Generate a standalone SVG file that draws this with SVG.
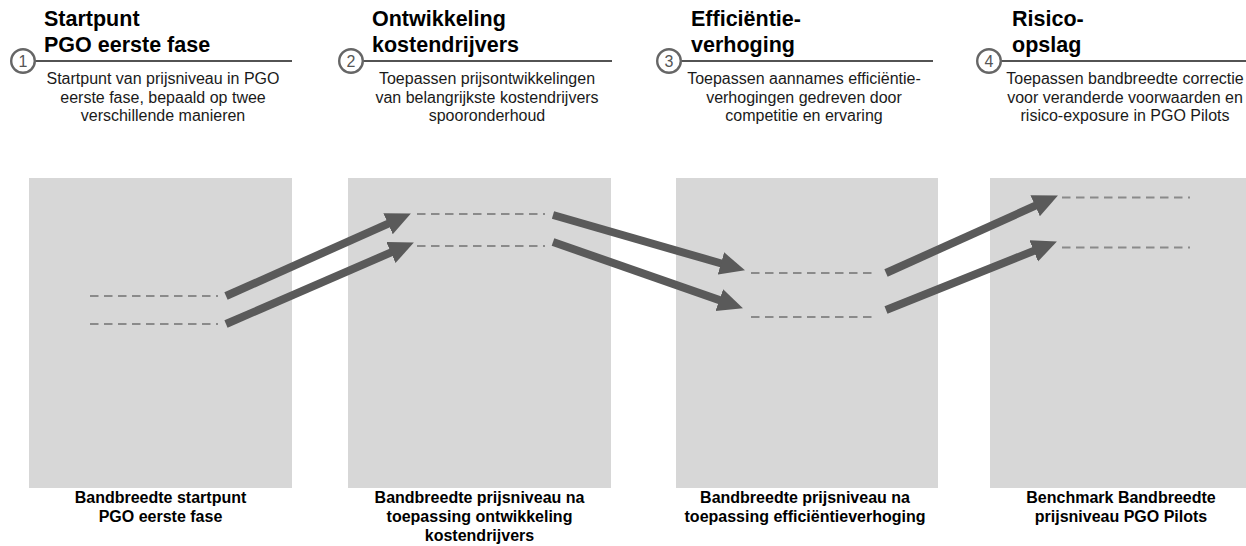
<svg xmlns="http://www.w3.org/2000/svg" width="1246" height="546" viewBox="0 0 1246 546">
  <style>
    text { font-family: "Liberation Sans", Arial, sans-serif; }
    .title { font-size: 21.5px; font-weight: bold; fill: #000; }
    .desc { font-size: 16px; fill: #1a1a1a; text-anchor: middle; }
    .label { font-size: 16px; font-weight: bold; fill: #000; text-anchor: middle; }
    .num { font-size: 16px; fill: #555; text-anchor: middle; }
    .ring { fill: #fff; stroke: #666; stroke-width: 2.4; }
    .rule { stroke: #1a1a1a; stroke-width: 1.3; }
    .box { fill: #d7d7d7; }
    .band { stroke: #8a8a8a; stroke-width: 2; stroke-dasharray: 8.5 5.5; fill: none; }
    .arrow { stroke: #5a5a5a; stroke-width: 8; fill: none; marker-end: url(#head); }
  </style>
  <defs>
    <marker id="head" markerUnits="userSpaceOnUse" markerWidth="26" markerHeight="24" refX="4" refY="11.5" orient="auto">
      <path d="M0,0 L25,11.5 L0,23 z" fill="#5a5a5a"/>
    </marker>
  </defs>
  <rect width="1246" height="546" fill="#fff"/>

  <g id="header-1">
    <text class="title" x="44" y="26">Startpunt</text>
    <text class="title" x="44" y="52">PGO eerste fase</text>
    <line class="rule" x1="35" y1="61" x2="292" y2="61"/>
    <circle class="ring" cx="23" cy="61" r="11.8"/>
    <text class="num" x="23" y="66.8">1</text>
    <text class="desc" x="163" y="84">Startpunt van prijsniveau in PGO</text>
    <text class="desc" x="163" y="102.5">eerste fase, bepaald op twee</text>
    <text class="desc" x="163" y="121">verschillende manieren</text>
  </g>

  <g id="header-2">
    <text class="title" x="372" y="26">Ontwikkeling</text>
    <text class="title" x="372" y="52">kostendrijvers</text>
    <line class="rule" x1="363" y1="61" x2="612" y2="61"/>
    <circle class="ring" cx="351" cy="61" r="11.8"/>
    <text class="num" x="351" y="66.8">2</text>
    <text class="desc" x="487" y="84">Toepassen prijsontwikkelingen</text>
    <text class="desc" x="487" y="102.5">van belangrijkste kostendrijvers</text>
    <text class="desc" x="487" y="121">spooronderhoud</text>
  </g>

  <g id="header-3">
    <text class="title" x="691" y="26">Efficiëntie-</text>
    <text class="title" x="691" y="52">verhoging</text>
    <line class="rule" x1="681" y1="61" x2="933" y2="61"/>
    <circle class="ring" cx="669" cy="61" r="11.8"/>
    <text class="num" x="669" y="66.8">3</text>
    <text class="desc" x="804" y="84">Toepassen aannames efficiëntie-</text>
    <text class="desc" x="804" y="102.5">verhogingen gedreven door</text>
    <text class="desc" x="804" y="121">competitie en ervaring</text>
  </g>

  <g id="header-4">
    <text class="title" x="1012" y="26">Risico-</text>
    <text class="title" x="1012" y="52">opslag</text>
    <line class="rule" x1="1001" y1="61" x2="1246" y2="61"/>
    <circle class="ring" cx="989" cy="61" r="11.8"/>
    <text class="num" x="989" y="66.8">4</text>
    <text class="desc" x="1125" y="84">Toepassen bandbreedte correctie</text>
    <text class="desc" x="1125" y="102.5">voor veranderde voorwaarden en</text>
    <text class="desc" x="1125" y="121">risico-exposure in PGO Pilots</text>
  </g>

  <g id="box-1">
    <rect class="box" x="29" y="178" width="263" height="310"/>
    <line class="band" x1="90" y1="296" x2="218" y2="296"/>
    <line class="band" x1="90" y1="324" x2="218" y2="324"/>
    <text class="label" x="160.5" y="503">Bandbreedte startpunt</text>
    <text class="label" x="160.5" y="522">PGO eerste fase</text>
  </g>

  <g id="box-2">
    <rect class="box" x="348" y="178" width="263" height="310"/>
    <line class="band" x1="417" y1="214" x2="545" y2="214"/>
    <line class="band" x1="417" y1="246" x2="545" y2="246"/>
    <text class="label" x="479.5" y="503">Bandbreedte prijsniveau na</text>
    <text class="label" x="479.5" y="522">toepassing ontwikkeling</text>
    <text class="label" x="479.5" y="541">kostendrijvers</text>
  </g>

  <g id="box-3">
    <rect class="box" x="676" y="178" width="262" height="310"/>
    <line class="band" x1="751" y1="273" x2="877" y2="273"/>
    <line class="band" x1="751" y1="317" x2="877" y2="317"/>
    <text class="label" x="805" y="503">Bandbreedte prijsniveau na</text>
    <text class="label" x="805" y="522">toepassing efficiëntieverhoging</text>
  </g>

  <g id="box-4">
    <rect class="box" x="990" y="178" width="263" height="310"/>
    <line class="band" x1="1062" y1="197.5" x2="1190" y2="197.5"/>
    <line class="band" x1="1062" y1="247.5" x2="1190" y2="247.5"/>
    <text class="label" x="1121" y="503">Benchmark Bandbreedte</text>
    <text class="label" x="1121" y="522">prijsniveau PGO Pilots</text>
  </g>

  <g id="connectors">
    <line class="arrow" x1="226" y1="296" x2="391.7" y2="222.1"/>
    <line class="arrow" x1="226" y1="324" x2="394.6" y2="250.9"/>
    <line class="arrow" x1="553" y1="215" x2="724.8" y2="264.5"/>
    <line class="arrow" x1="553" y1="242" x2="723.1" y2="301.4"/>
    <line class="arrow" x1="886" y1="273" x2="1038.8" y2="204.2"/>
    <line class="arrow" x1="886" y1="310" x2="1037.4" y2="249.4"/>
  </g>
</svg>
